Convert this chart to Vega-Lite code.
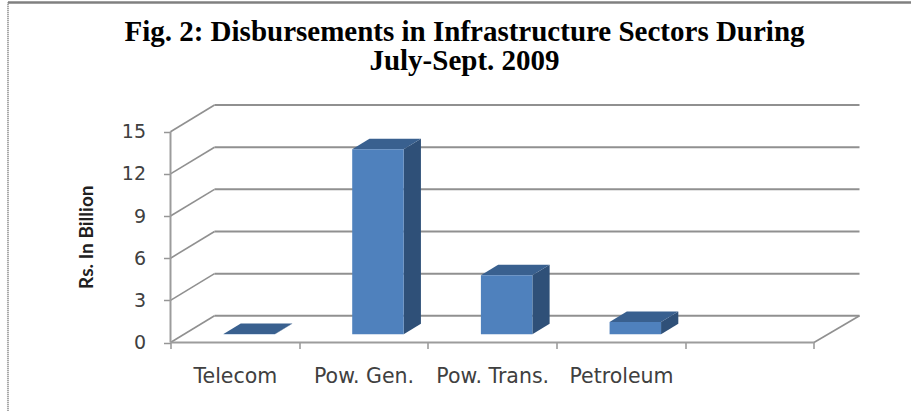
{
"$schema":"https://vega.github.io/schema/vega-lite/v6.json",
"width":689,"height":238.5,
"autosize":{"type":"none"},
"padding":{"left":170.5,"top":104,"right":51.5,"bottom":68.5},
"background":"white",
"config":{"view":{"stroke":null}},
"title":{"text":["Fig. 2: Disbursements in Infrastructure Sectors During","July-Sept. 2009"],"font":"Liberation Serif","fontWeight":"bold","fontSize":29,"lineHeight":29,"color":"#000000","anchor":"middle","frame":"group","dx":-50.5,"offset":-98,"baseline":"alphabetic"},
"datasets":{
"bars":[{"category":"Telecom","order":0,"value":0.02},{"category":"Pow. Gen.","order":1,"value":13.17},{"category":"Pow. Trans.","order":2,"value":4.2},{"category":"Petroleum","order":3,"value":0.88}],
"ticks":[{"tick":0},{"tick":3},{"tick":6},{"tick":9},{"tick":12},{"tick":15}]
},
"layer":[
{"data":{"name":"ticks"},"transform":[{"calculate":"datum.tick+1.9","as":"back"}],
 "mark":{"type":"rule","color":"#909090","strokeWidth":2},
 "encoding":{
  "x":{"datum":0.342,"type":"quantitative","scale":{"domain":[0,5.354],"nice":false,"zero":false},
   "axis":{"title":null,"values":[0,1,2,3,4,5],"grid":false,"domain":false,"tickSize":6,"tickWidth":1.5,"tickColor":"#969696",
    "labelExpr":"['Telecom','Pow. Gen.','Pow. Trans.','Petroleum','',''][datum.value]","labelOffset":64.35,"labelAlign":"center","labelOverlap":false,"labelFlush":false,"labelBound":false,"labelPadding":18,"labelFont":"DejaVu Sans","labelFontSize":20.5,"labelColor":"#404040"}},
  "x2":{"datum":5.354},
  "y":{"field":"back","type":"quantitative","scale":{"domain":[0,16.975],"nice":false,"zero":false},
   "axis":{"title":"Rs. In Billion","values":[0,3,6,9,12,15],"grid":false,"domain":false,"tickSize":7,"tickWidth":1.5,"tickColor":"#969696","labelPadding":18,"labelFont":"DejaVu Sans","labelFontSize":19,"labelColor":"#404040","titleFont":"Lato","titleFontWeight":"bold","titleFontSize":19,"titleColor":"#202020","titleX":-74,"titleY":132.7}}
 }},
{"data":{"name":"ticks"},"transform":[{"calculate":"datum.tick+1.9","as":"back"},{"calculate":"0","as":"x0"},{"calculate":"0.342","as":"x1"}],
 "mark":{"type":"rule","color":"#909090","strokeWidth":1.6},
 "encoding":{"x":{"field":"x0","type":"quantitative"},"x2":{"field":"x1"},"y":{"field":"tick","type":"quantitative"},"y2":{"field":"back"}}},
{"mark":{"type":"rule","color":"#909090","strokeWidth":1.6},"data":{"values":[{"x0":5,"x1":5.354,"y0":0,"y1":1.9}]},
 "encoding":{"x":{"field":"x0","type":"quantitative"},"x2":{"field":"x1"},"y":{"field":"y0","type":"quantitative"},"y2":{"field":"y1"}}},
{"mark":{"type":"rule","color":"#9c9c9c","strokeWidth":2},"data":{"values":[{"x0":0,"x1":5,"y0":0,"y1":0}]},
 "encoding":{"x":{"field":"x0","type":"quantitative"},"x2":{"field":"x1"},"y":{"field":"y0","type":"quantitative"}}},
{"mark":{"type":"rule","color":"#9c9c9c","strokeWidth":2},"data":{"values":[{"x0":0,"y0":0,"y1":15}]},
 "encoding":{"x":{"field":"x0","type":"quantitative"},"y":{"field":"y0","type":"quantitative"},"y2":{"field":"y1"}}},
{"mark":{"type":"rule","color":"#8a8a8a","strokeWidth":2,"strokeDash":[1,1]},"data":{"values":[{"x0":-1.263,"y0":-4.9,"y1":24.2}]},
 "encoding":{"x":{"field":"x0","type":"quantitative"},"y":{"field":"y0","type":"quantitative"},"y2":{"field":"y1"}}},
{"mark":{"type":"rule","color":"#808080","strokeWidth":2.5},"data":{"values":[{"x0":-1.263,"x1":5.76,"y0":24.2}]},
 "encoding":{"x":{"field":"x0","type":"quantitative"},"x2":{"field":"x1"},"y":{"field":"y0","type":"quantitative"}}},
{"data":{"name":"bars"},"transform":[{"calculate":"[0,1]","as":"p"},{"flatten":["p"]},{"calculate":"datum.order+0.812+datum.p*0.134","as":"sx"},{"calculate":"0.583+datum.p*0.747","as":"sy"},{"calculate":"datum.sy+datum.value","as":"sy2"}],
 "mark":{"type":"area","orient":"vertical","color":"#2f5078"},
 "encoding":{"x":{"field":"sx","type":"quantitative"},"y":{"field":"sy","type":"quantitative"},"y2":{"field":"sy2"},"detail":{"field":"category"}}},
{"data":{"name":"bars"},"transform":[{"calculate":"[0,1]","as":"p"},{"flatten":["p"]},{"calculate":"datum.order+0.412+datum.p*0.134","as":"tx"},{"calculate":"datum.tx+0.4","as":"tx2"},{"calculate":"0.583+datum.value+datum.p*0.747","as":"ty"}],
 "mark":{"type":"area","orient":"horizontal","color":"#39608f"},
 "encoding":{"x":{"field":"tx","type":"quantitative"},"x2":{"field":"tx2"},"y":{"field":"ty","type":"quantitative"},"detail":{"field":"category"}}},
{"data":{"name":"bars"},"transform":[{"calculate":"datum.order+0.412","as":"fx"},{"calculate":"datum.fx+0.4","as":"fx2"},{"calculate":"0.583","as":"fy"},{"calculate":"0.583+datum.value","as":"fy2"}],
 "mark":{"type":"rect","color":"#4f81bd"},
 "encoding":{"x":{"field":"fx","type":"quantitative"},"x2":{"field":"fx2"},"y":{"field":"fy","type":"quantitative"},"y2":{"field":"fy2"}}}
]
}
